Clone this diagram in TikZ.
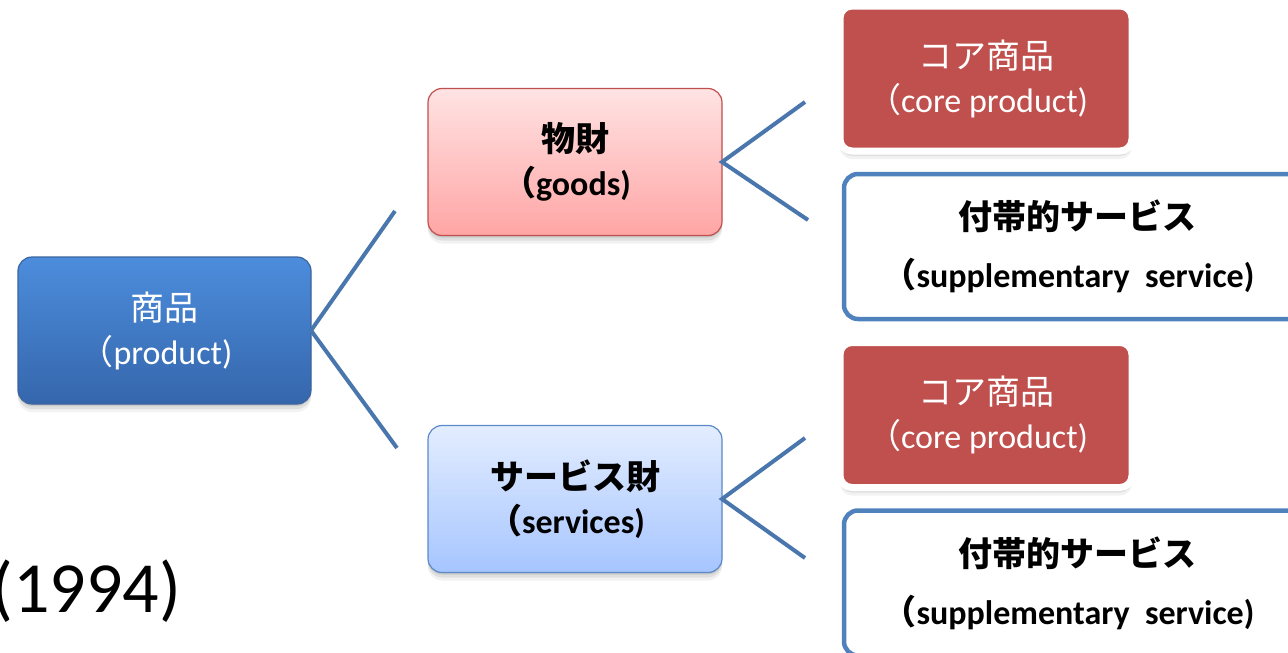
\documentclass[tikz,border=0pt]{standalone}
\usepackage{fontspec}
\setmainfont{Carlito}
\newfontfamily\jp{Noto Sans CJK JP}
\usetikzlibrary{shadows}
% full-width opening parenthesis, pulled in so the line sits centred
\newcommand{\fwlp}{\kern-0.5em{\jp （}}
\definecolor{linkblue}{HTML}{4A76AE}
\definecolor{acblue}{HTML}{4F81BD}
\definecolor{acred}{HTML}{C0504D}
\definecolor{rootedge}{HTML}{3A64A0}
\definecolor{roottop}{HTML}{4C8DDC}
\definecolor{rootbot}{HTML}{3566AC}
\definecolor{goodsedge}{HTML}{C0504D}
\definecolor{goodstop}{HTML}{FFE3E3}
\definecolor{goodsbot}{HTML}{FFA5A5}
\definecolor{servedge}{HTML}{5B8AC6}
\definecolor{servtop}{HTML}{E3EDFF}
\definecolor{servbot}{HTML}{A6C5FF}
\begin{document}
\begin{tikzpicture}[x=1pt,y=-1pt,
  every node/.style={inner sep=0pt, outer sep=0pt},
  softshadow/.style={
    general shadow={shadow yshift=-2pt, fill=black, opacity=0.10},
    general shadow={shadow yshift=-5pt, fill=black, opacity=0.08},
    general shadow={shadow yshift=-8pt, fill=black, opacity=0.05}},
  glow/.style={
    general shadow={shadow scale=1.015, fill=black, opacity=0.07}},
  lbl/.style={align=center, font=\fontsize{34}{44}\selectfont},
  rootbox/.style={lbl, softshadow, rounded corners=14pt, draw=rootedge, line width=1.2pt,
    top color=roottop, bottom color=rootbot, text=white,
    minimum width=293pt, minimum height=147pt},
  goodsbox/.style={lbl, softshadow, rounded corners=14pt, draw=goodsedge, line width=1.2pt,
    top color=goodstop, bottom color=goodsbot, font=\fontsize{34}{44}\selectfont\bfseries,
    minimum width=294pt, minimum height=147pt},
  servbox/.style={lbl, softshadow, rounded corners=14pt, draw=servedge, line width=1.2pt,
    top color=servtop, bottom color=servbot, font=\fontsize{34}{44}\selectfont\bfseries,
    minimum width=294pt, minimum height=147pt},
  corebox/.style={lbl, glow, softshadow, rounded corners=12pt, draw=white, line width=7pt,
    fill=acred, text=white, minimum width=292pt, minimum height=145pt},
  suppbox/.style={align=center, rounded corners=14pt, draw=acblue, line width=4.5pt,
    fill=white, font=\fontsize{34}{58}\selectfont\bfseries,
    minimum width=466pt, minimum height=145pt},
  conn/.style={draw=linkblue, line width=4pt},
]
\useasboundingbox (0,0) rectangle (1288,653);

% year caption, running off the left edge
\node[anchor=base east, font=\fontsize{72}{80}\selectfont] (year) at (181,612) {(1994)};

% boxes
\node[rootbox] (prod) at (164.5,330.5) {{\jp 商品}\\\fwlp product)};
\node[goodsbox] (goods) at (575,162) {{\jp 物財}\\\fwlp goods)};
\node[servbox] (serv) at (575,499) {{\jp サービス財}\\\fwlp services)};

\node[corebox] (coreA) at (986,78.5) {{\jp コア商品}\\\fwlp core product)};
\node[suppbox] (suppA) at (1077,246.5) {{\jp 付帯的サービス}\\\fwlp supplementary\ \ service)};
\node[corebox] (coreB) at (986,415) {{\jp コア商品}\\\fwlp core product)};
\node[suppbox] (suppB) at (1077,583) {{\jp 付帯的サービス}\\\fwlp supplementary\ \ service)};

% open ends of the branch lines
\coordinate (p1) at (395,211);
\coordinate (p2) at (397,448);
\coordinate (g1) at (805,102);
\coordinate (g2) at (808,220);
\coordinate (s1) at (805,438);
\coordinate (s2) at (805,558);

\draw[conn] (p1) -- (prod.east) -- (p2);
\draw[conn] (g1) -- (goods.east) -- (g2);
\draw[conn] (s1) -- (serv.east) -- (s2);
\end{tikzpicture}
\end{document}
